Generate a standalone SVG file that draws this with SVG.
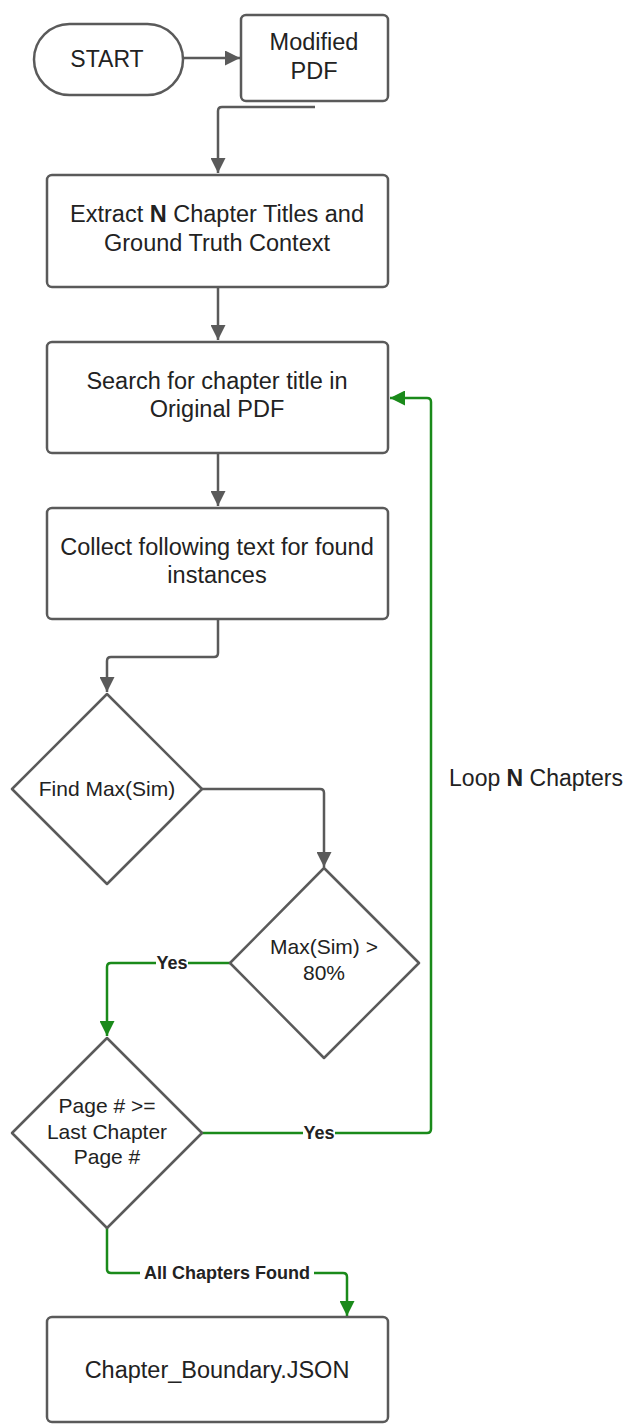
<svg xmlns="http://www.w3.org/2000/svg" width="629" height="1425" viewBox="0 0 629 1425">
<defs>
<style>
.shape{fill:#fff;stroke:#5a5a5a;stroke-width:2.5;stroke-linejoin:round}
.t{font-family:"Liberation Sans",Arial,sans-serif;fill:#222;text-anchor:middle}
.bx{font-size:23.5px}
.dm{font-size:21px}
.lbl{font-family:"Liberation Sans",Arial,sans-serif;font-weight:bold;font-size:18px;fill:#222;text-anchor:middle}
.g{fill:none;stroke:#5a5a5a;stroke-width:2.5;stroke-linejoin:round}
.gr{fill:none;stroke:#1a8a1a;stroke-width:2.5;stroke-linejoin:round}
</style>
<marker id="ag" viewBox="0 0 10 10" refX="10" refY="5" markerWidth="6" markerHeight="6" markerUnits="strokeWidth" orient="auto"><path d="M0,0 L10,5 L0,10 z" fill="#5a5a5a"/></marker>
<marker id="agr" viewBox="0 0 10 10" refX="10" refY="5" markerWidth="6" markerHeight="6" markerUnits="strokeWidth" orient="auto"><path d="M0,0 L10,5 L0,10 z" fill="#1a8a1a"/></marker>
</defs>
<rect width="629" height="1425" fill="#fff"/>
<g id="connectors">
<path class="g" d="M183,58 L240,58" marker-end="url(#ag)"/>
<path class="g" d="M315,107 L222,107 Q218,107 218,111 L218,173" marker-end="url(#ag)"/>
<path class="g" d="M218,287 L218,340" marker-end="url(#ag)"/>
<path class="g" d="M218,453 L218,506" marker-end="url(#ag)"/>
<path class="g" d="M218,619 L218,653 Q218,657 214,657 L111,657 Q107,657 107,661 L107,692" marker-end="url(#ag)"/>
<path class="g" d="M202,789 L320,789 Q324,789 324,793 L324,867" marker-end="url(#ag)"/>
<path class="gr" d="M230,963 L111,963 Q107,963 107,967 L107,1036" marker-end="url(#agr)"/>
<path class="gr" d="M202,1133 L427,1133 Q431,1133 431,1129 L431,402 Q431,398 427,398 L390,398" marker-end="url(#agr)"/>
<path class="gr" d="M107,1228 L107,1269 Q107,1273 111,1273 L343,1273 Q347,1273 347,1277 L347,1316" marker-end="url(#agr)"/>
<rect x="156" y="953" width="32" height="20" fill="#fff"/>
<text class="lbl" x="172" y="969">Yes</text>
<rect x="303" y="1123" width="32" height="20" fill="#fff"/>
<text class="lbl" x="319" y="1139">Yes</text>
<rect x="140" y="1263" width="174" height="20" fill="#fff"/>
<text class="lbl" x="227" y="1279">All Chapters Found</text>
</g>
<g id="start">
<rect class="shape" x="34" y="24" width="149" height="71" rx="35.5"/>
<text class="t" font-size="23" x="107" y="67">START</text>
</g>
<g id="modified-pdf">
<rect class="shape" x="241" y="15" width="147" height="86" rx="5"/>
<text class="t bx" x="314" y="50">Modified</text>
<text class="t bx" x="314" y="79">PDF</text>
</g>
<g id="extract">
<rect class="shape" x="47" y="175" width="341" height="112" rx="5"/>
<text class="t bx" x="217" y="222">Extract <tspan font-weight="bold">N</tspan> Chapter Titles and</text>
<text class="t bx" x="217" y="251">Ground Truth Context</text>
</g>
<g id="search">
<rect class="shape" x="47" y="342" width="341" height="111" rx="5"/>
<text class="t bx" x="217" y="389">Search for chapter title in</text>
<text class="t bx" x="217" y="417">Original PDF</text>
</g>
<g id="collect">
<rect class="shape" x="47" y="508" width="341" height="111" rx="5"/>
<text class="t bx" x="217" y="555">Collect following text for found</text>
<text class="t bx" x="217" y="583">instances</text>
</g>
<g id="find-max">
<path class="shape" d="M107,694 L202,789 L107,884 L12,789 Z"/>
<text class="t dm" x="107" y="796">Find Max(Sim)</text>
</g>
<g id="threshold">
<path class="shape" d="M324,868 L419,963 L324,1058 L230,963 Z"/>
<text class="t dm" x="324" y="954">Max(Sim) &gt;</text>
<text class="t dm" x="324" y="980">80%</text>
</g>
<g id="last-page">
<path class="shape" d="M107,1038 L202,1133 L107,1228 L12,1133 Z"/>
<text class="t dm" x="107" y="1113">Page # &gt;=</text>
<text class="t dm" x="107" y="1139">Last Chapter</text>
<text class="t dm" x="107" y="1164">Page #</text>
</g>
<g id="loop-label">
<text class="t" font-size="23" x="536" y="786">Loop <tspan font-weight="bold">N</tspan> Chapters</text>
</g>
<g id="output">
<rect class="shape" x="47" y="1317" width="341" height="105" rx="5"/>
<text class="t bx" x="217" y="1378">Chapter_Boundary.JSON</text>
</g>
</svg>
